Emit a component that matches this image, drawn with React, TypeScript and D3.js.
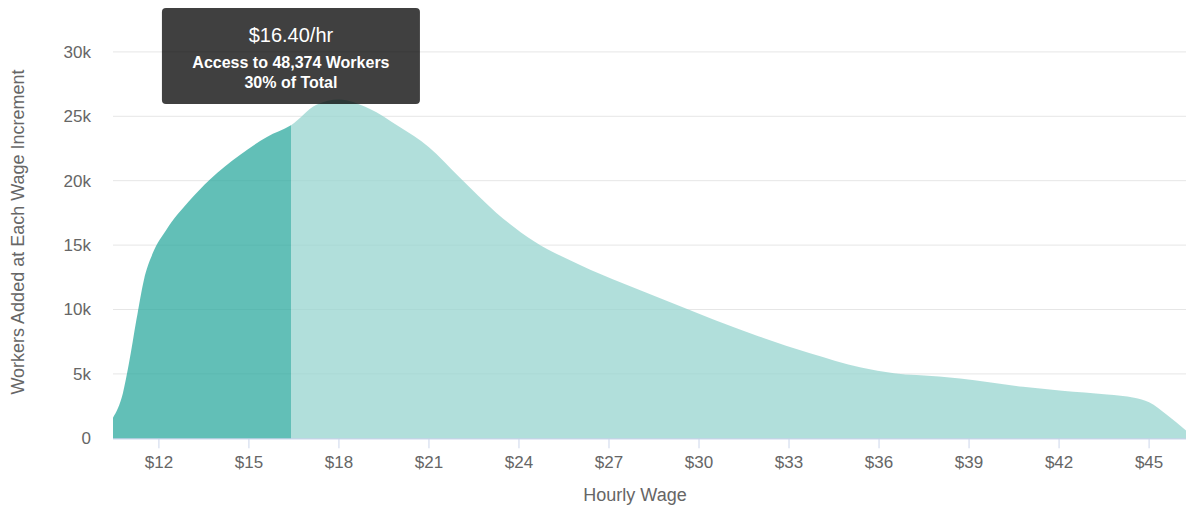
import * as d3 from "d3";

// wage ($/hr) and workers added at each wage increment
const wages = [
	10.47, 10.8, 11.0, 11.25, 11.5, 11.8, 12.25, 13.0, 13.7, 14.7, 15.6, 16.4, 17.25, 18.0, 19.0,
	20.0, 21.0, 22.0, 23.25, 24.5, 26.0, 27.5, 29.0, 30.5, 32.0, 33.7, 35.4, 36.5, 38.0, 38.7,
	40.8, 42.1, 43.6, 44.5, 45.0, 45.6, 46.23,
];
const workers = [
	1600, 3500, 5800, 9200, 12300, 14400, 16200, 18400, 20100, 22000, 23400, 24300, 25900, 26300,
	25600, 24200, 22600, 20300, 17500, 15300, 13500, 12000, 10600, 9200, 7900, 6600, 5500, 5050,
	4800, 4650, 4000, 3700, 3400, 3150, 2800, 1800, 600,
];
const yTicks = [0, 5000, 10000, 15000, 20000, 25000, 30000];
const xTicks = [12, 15, 18, 21, 24, 27, 30, 33, 36, 39, 42, 45];
const selectedWage = 16.4;
const tooltipLines = ["$16.40/hr", "Access to 48,374 Workers", "30% of Total"];

const W = 1186;
const H = 508;
const FONT = '"Liberation Sans", Arial, sans-serif';

export default function App() {
	const points = wages.map((w, i) => ({ w, v: workers[i] }));

	const x = d3.scaleLinear().domain([10.47, 46.23]).range([113, 1186]);
	const y = d3.scaleLinear().domain([0, 30000]).range([438.3, 51.9]);

	const area = d3
		.area<{ w: number; v: number }>()
		.x((d) => x(d.w))
		.y0(y(0))
		.y1((d) => y(d.v))
		.curve(d3.curveMonotoneX);
	const path = area(points) || "";

	const cut = x(selectedWage);
	const fmtK = (v: number) => (v === 0 ? "0" : `${v / 1000}k`);

	return (
		<div style={{ position: "absolute", left: 0, top: 0 }}>
			<svg width={W} height={H} style={{ fontFamily: FONT, display: "block" }}>
				<defs>
					<clipPath id="left-part">
						<rect x={0} y={0} width={cut} height={H} />
					</clipPath>
					<clipPath id="right-part">
						<rect x={cut} y={0} width={W - cut} height={H} />
					</clipPath>
				</defs>
				<rect width={W} height={H} fill="#fff" />

				{/* gridlines */}
				{yTicks.slice(1).map((t) => (
					<line key={t} x1={113} x2={W} y1={y(t)} y2={y(t)} stroke="#e6e6e6" strokeWidth={1} />
				))}

				{/* x axis line and ticks */}
				<line x1={113} x2={W} y1={y(0) + 0.5} y2={y(0) + 0.5} stroke="#ccd6eb" strokeWidth={1.5} />
				{xTicks.map((t) => (
					<line key={t} x1={x(t)} x2={x(t)} y1={y(0)} y2={y(0) + 10} stroke="#ccd6eb" strokeWidth={1} />
				))}

				{/* areas */}
				<path d={path} fill="#97d4cf" fillOpacity={0.75} clipPath="url(#right-part)" />
				<path d={path} fill="#2eaa9f" fillOpacity={0.75} clipPath="url(#left-part)" />

				{/* y labels */}
				{yTicks.map((t) => (
					<text
						key={t}
						x={91}
						y={y(t)}
						dy="0.35em"
						textAnchor="end"
						fontSize={17}
						fill="#666"
					>
						{fmtK(t)}
					</text>
				))}
				<text
					transform={`translate(24,232) rotate(-90)`}
					textAnchor="middle"
					fontSize={18}
					fill="#666"
				>
					Workers Added at Each Wage Increment
				</text>

				{/* x labels */}
				{xTicks.map((t) => (
					<text key={t} x={x(t)} y={468} textAnchor="middle" fontSize={17} fill="#666">
						${t}
					</text>
				))}
				<text x={635} y={501} textAnchor="middle" fontSize={18} fill="#666">
					Hourly Wage
				</text>

				{/* tooltip */}
				<g transform={`translate(${cut},0)`}>
					<rect x={-129} y={8} width={258} height={96} rx={4} fill="rgba(0,0,0,0.75)" />
					<text y={42} textAnchor="middle" fontSize={20} fill="#fff">
						{tooltipLines[0]}
					</text>
					<text y={68} textAnchor="middle" fontSize={16} fontWeight="bold" fill="#fff">
						{tooltipLines[1]}
					</text>
					<text y={88} textAnchor="middle" fontSize={16} fontWeight="bold" fill="#fff">
						{tooltipLines[2]}
					</text>
				</g>
			</svg>
		</div>
	);
}
